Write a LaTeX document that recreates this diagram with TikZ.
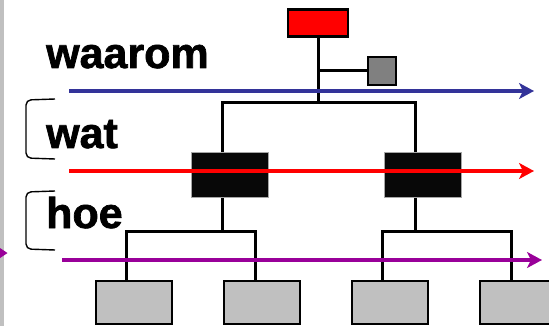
\documentclass[tikz,border=0pt]{standalone}
\usepackage{fontspec}
\setmainfont{Liberation Sans}
\newfontfamily\heavyfont[FakeBold=1.6]{Liberation Sans Bold}
\usetikzlibrary{arrows.meta}
\definecolor{ablue}{HTML}{333399}
\definecolor{apurple}{HTML}{990099}
\definecolor{lgray}{HTML}{C0C0C0}
\definecolor{mgray}{HTML}{808080}
\begin{document}
\begin{tikzpicture}[x=1pt,y=-1pt,
  box/.style={draw=black,line width=2.5pt,inner sep=0pt},
  redbox/.style={box,fill=red,minimum width=60pt,minimum height=27pt},
  smallbox/.style={box,fill=mgray,minimum width=28pt,minimum height=28pt},
  blackbox/.style={draw=gray!70,line width=0.8pt,fill=black!97,inner sep=0pt,minimum width=77pt,minimum height=45pt},
  leafbox/.style={box,fill=lgray,minimum width=76pt,minimum height=43pt},
  conn/.style={line width=3pt,draw=black},
  flow/.style={line width=4.2pt,-{Stealth[length=15pt,width=16pt,inset=4pt]}},
  lbl/.style={anchor=base west,inner sep=0pt,font=\fontsize{43}{43}\selectfont\heavyfont},
  brace/.style={line width=1.4pt,rounded corners=5pt}]
\useasboundingbox (0,0) rectangle (549,326);
\fill[lgray] (0,0) rectangle (4,326);
\fill[apurple] (0,248) -- (7.5,253) -- (0,258) -- cycle;
% nodes
\node[redbox] (red) at (318,23) {};
\node[smallbox] (small) at (382,71) {};
\node[blackbox] (bk1) at (230,175) {};
\node[blackbox] (bk2) at (422.5,175) {};
\node[leafbox] (g1) at (134,302.5) {};
\node[leafbox] (g2) at (262,302.5) {};
\node[leafbox] (g3) at (390,302.5) {};
\node[leafbox] (g4) at (518,302.5) {};
% junctions
\coordinate (t0) at (318,103);
\coordinate (u1) at (222,231);
\coordinate (u2) at (415,231);
% connectors
\draw[conn] (red.south) -- (t0);
\draw[conn] (red.south |- small.west) -- (small.west);
\draw[conn] ([xshift=-8pt]bk1.north) |- (t0) -| ([xshift=-7.5pt]bk2.north);
\draw[conn] ([xshift=-8pt]bk1.south) -- (u1);
\draw[conn] ([xshift=-7.5pt]bk2.south) -- (u2);
\draw[conn] ([xshift=-8pt]g1.north) |- (u1) -| ([xshift=-7pt]g2.north);
\draw[conn] ([xshift=-8pt]g3.north) |- (u2) -| ([xshift=-7pt]g4.north);
% labels
\node[lbl] (waarom) at (46,68) {waarom};
\node[lbl] (wat) at (46,148) {wat};
\node[lbl] (hoe) at (46,228) {hoe};
% brackets
\draw[brace] (55,99) -- (26,100) -- (26,158) -- (55,159);
\draw[brace] (55,191) -- (26,192) -- (26,249) -- (55,250);
% flow arrows
\coordinate (bs) at (69,91);
\coordinate (be) at (534,91);
\coordinate (rs) at (69,171);
\coordinate (re) at (534,171);
\coordinate (ps) at (62,260);
\coordinate (pe) at (542,260);
\draw[flow,ablue] (bs) -- (be);
\draw[flow,red] (rs) -- (re);
\draw[flow,apurple] (ps) -- (pe);
\end{tikzpicture}
\end{document}
